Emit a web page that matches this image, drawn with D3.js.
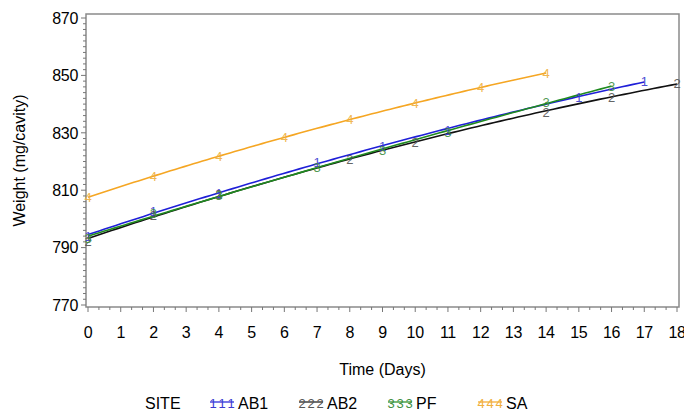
<!DOCTYPE html>
<html>
<head>
<meta charset="utf-8">
<script src="https://cdn.jsdelivr.net/npm/d3@7"></script>
<style>
  html, body { margin: 0; padding: 0; background: #fff; }
  svg { display: block; }
  text { font-family: "Liberation Sans", Arial, sans-serif; }
</style>
</head>
<body>
<svg id="chart" width="684" height="411"></svg>
<script>
// Observed weights per site (mg/cavity) by storage day
const siteNames = ["AB1", "AB2", "PF", "SA"];
const siteSymbols = ["1", "2", "3", "4"];
const siteColors = ["#1f1fd8", "#111111", "#1f8a1f", "#f5a623"];
const symbolColors = ["#3b3bd0", "#555555", "#3f8f3f", "#f0b040"];

const ab1Days = [0, 2, 4, 7, 9, 11, 15, 17];
const ab1Weight = [794.0, 802.6, 809.0, 819.8, 825.3, 831.0, 842.5, 848.0];
const ab2Days = [0, 2, 4, 8, 10, 14, 16, 18];
const ab2Weight = [792.3, 801.4, 808.6, 820.6, 826.6, 837.3, 842.4, 847.4];
const pfDays = [0, 2, 4, 7, 9, 11, 14, 16];
const pfWeight = [793.2, 801.8, 808.3, 817.8, 824.0, 830.2, 840.6, 846.3];
const saDays = [0, 2, 4, 6, 8, 10, 12, 14];
const saWeight = [807.6, 814.8, 821.9, 828.4, 834.6, 840.4, 845.8, 850.8];

const xTicks = d3.range(0, 19);
const yTicks = [770, 790, 810, 830, 850, 870];

const seriesDays = [ab1Days, ab2Days, pfDays, saDays];
const seriesWeight = [ab1Weight, ab2Weight, pfWeight, saWeight];

// Least-squares quadratic fit y = a + b x + c x^2
function quadFit(xs, ys) {
  const n = xs.length;
  let s = [0, 0, 0, 0, 0], t = [0, 0, 0];
  for (let i = 0; i < n; i++) {
    const x = xs[i], y = ys[i];
    for (let k = 0; k < 5; k++) s[k] += Math.pow(x, k);
    for (let k = 0; k < 3; k++) t[k] += y * Math.pow(x, k);
  }
  const A = [[s[0], s[1], s[2], t[0]], [s[1], s[2], s[3], t[1]], [s[2], s[3], s[4], t[2]]];
  for (let i = 0; i < 3; i++) {
    for (let j = i + 1; j < 3; j++) {
      const f = A[j][i] / A[i][i];
      for (let k = i; k < 4; k++) A[j][k] -= f * A[i][k];
    }
  }
  const c = [0, 0, 0];
  for (let i = 2; i >= 0; i--) {
    let v = A[i][3];
    for (let k = i + 1; k < 3; k++) v -= A[i][k] * c[k];
    c[i] = v / A[i][i];
  }
  return x => c[0] + c[1] * x + c[2] * x * x;
}

const svg = d3.select("#chart");
const frame = { left: 86, right: 679, top: 14, bottom: 307 };

const x = d3.scaleLinear().domain([0, 18]).range([88, 677]);
const y = d3.scaleLinear().domain([770, 870]).range([305, 18]);

// Plot frame
svg.append("rect")
  .attr("x", frame.left).attr("y", frame.top)
  .attr("width", frame.right - frame.left).attr("height", frame.bottom - frame.top)
  .attr("fill", "none").attr("stroke", "#8a8a8a").attr("stroke-width", 1.5);

// Y axis with minor ticks every 2 units
const yAxis = svg.append("g").attr("transform", `translate(${frame.left},0)`);
yAxis.selectAll("line.minor").data(d3.range(770, 871, 2)).join("line")
  .attr("x1", d => yTicks.includes(d) ? -5 : -3).attr("x2", 0)
  .attr("y1", d => y(d)).attr("y2", d => y(d))
  .attr("stroke", "#777").attr("stroke-width", 1);
yAxis.selectAll("text").data(yTicks).join("text")
  .attr("x", -8).attr("y", d => y(d)).attr("dy", "0.36em")
  .attr("text-anchor", "end").attr("font-size", 16).attr("fill", "#000")
  .attr("letter-spacing", "-0.3")
  .text(d => d);

// X axis with two minor ticks between days
const xAxis = svg.append("g").attr("transform", `translate(0,${frame.bottom})`);
xAxis.selectAll("line").data(d3.range(0, 18.001, 1 / 3)).join("line")
  .attr("x1", d => x(d)).attr("x2", d => x(d))
  .attr("y1", 0).attr("y2", (d, i) => i % 3 === 0 ? 5 : 3)
  .attr("stroke", "#777").attr("stroke-width", 1);
xAxis.selectAll("text").data(xTicks).join("text")
  .attr("x", d => x(d)).attr("y", 31)
  .attr("text-anchor", "middle").attr("font-size", 16).attr("fill", "#000")
  .attr("letter-spacing", "-0.3")
  .text(d => d);

// Axis titles
svg.append("text")
  .attr("x", (frame.left + frame.right) / 2).attr("y", 375)
  .attr("text-anchor", "middle").attr("font-size", 16).text("Time  (Days)");
svg.append("text")
  .attr("transform", `translate(25,${(frame.top + frame.bottom) / 2}) rotate(-90)`)
  .attr("text-anchor", "middle").attr("font-size", 16).text("Weight  (mg/cavity)");

// Fitted curves and observed symbols
const line = d3.line().x(d => x(d[0])).y(d => y(d[1]));
const plot = svg.append("g");
siteNames.forEach((name, i) => {
  const days = seriesDays[i], wts = seriesWeight[i];
  const fit = quadFit(days, wts);
  const lo = d3.min(days), hi = d3.max(days);
  const pts = d3.range(0, 101).map(k => {
    const t = lo + (hi - lo) * k / 100;
    return [t, fit(t)];
  });
  plot.append("path").datum(pts)
    .attr("d", line).attr("fill", "none")
    .attr("stroke", siteColors[i]).attr("stroke-width", 1.6);
});
siteNames.forEach((name, i) => {
  const days = seriesDays[i], wts = seriesWeight[i];
  plot.selectAll(null).data(days.map((d, k) => [d, wts[k]])).join("text")
    .attr("x", d => x(d[0])).attr("y", d => y(d[1])).attr("dy", "0.36em")
    .attr("text-anchor", "middle")
    .attr("font-family", "DejaVu Sans, sans-serif")
    .attr("font-size", 13).attr("font-weight", 300)
    .attr("fill", symbolColors[i]).attr("opacity", 0.9)
    .text(siteSymbols[i]);
});

// Legend
const legY = 403;
svg.append("text").attr("x", 145).attr("y", legY).attr("dy", "0.36em")
  .attr("font-size", 16).text("SITE");
const legX = [210, 299, 388, 478];
siteNames.forEach((name, i) => {
  const g = svg.append("g").attr("transform", `translate(${legX[i]},${legY})`);
  g.append("line").attr("x1", 0).attr("x2", 24).attr("y1", -1).attr("y2", -1)
    .attr("stroke", siteColors[i]).attr("stroke-width", 1.2);
  [3, 12, 21].forEach(dx => {
    g.append("text").attr("x", dx).attr("y", 0).attr("dy", "0.36em")
      .attr("text-anchor", "middle")
      .attr("font-family", "DejaVu Sans, sans-serif")
      .attr("font-size", 13).attr("font-weight", 300)
      .attr("fill", symbolColors[i]).text(siteSymbols[i]);
  });
  g.append("text").attr("x", 28).attr("y", 0).attr("dy", "0.36em")
    .attr("font-size", 16).text(name);
});
</script>
</body>
</html>
